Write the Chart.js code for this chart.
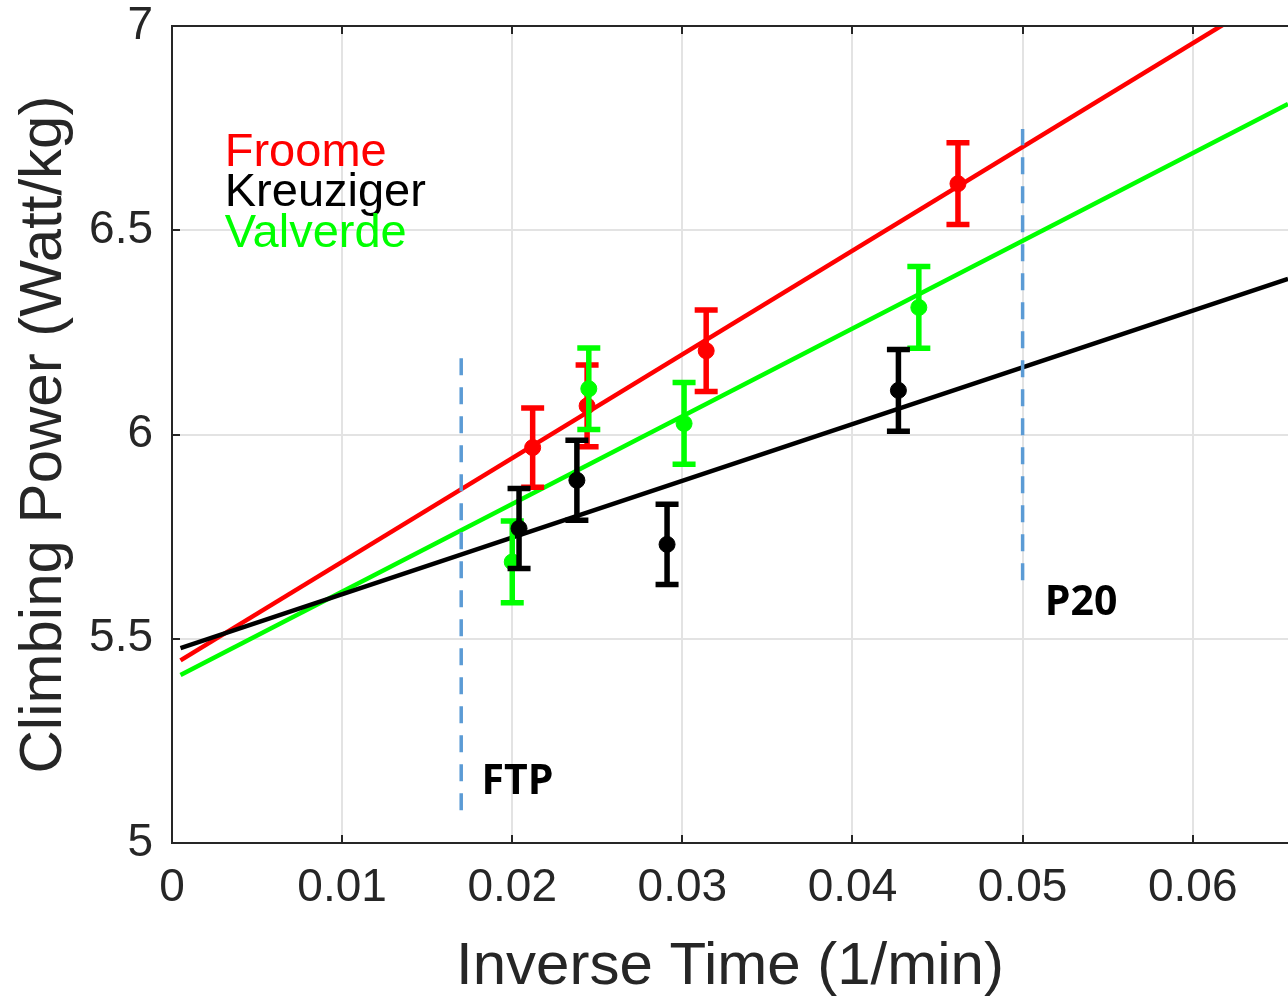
<!DOCTYPE html>
<html lang="en">
  <head>
    <meta charset="UTF-8" />
    <title>Climbing Power vs Inverse Time</title>
    <script src="https://cdn.jsdelivr.net/npm/chart.js"></script>
    <style>
      html,
      body {
        margin: 0;
        padding: 0;
        background: #fff;
        overflow: hidden;
      }
      canvas {
        display: block;
      }
    </style>
  </head>
  <body>
    <canvas id="chart" width="1288" height="997"></canvas>

    <script>
      // values
      const froomeX = [0.0212, 0.0244, 0.0314, 0.0462];
      const froomeY = [5.968, 6.07, 6.205, 6.614];
      const froomeErr = [0.097, 0.1, 0.1, 0.1];

      const kreuzigerX = [0.0204, 0.0238, 0.0291, 0.0427];
      const kreuzigerY = [5.77, 5.888, 5.731, 6.108];
      const kreuzigerErr = [0.098, 0.098, 0.098, 0.1];

      const valverdeX = [0.02, 0.0245, 0.0301, 0.0439];
      const valverdeY = [5.688, 6.112, 6.027, 6.311];
      const valverdeErr = [0.1, 0.1, 0.1, 0.1];

      // fitted lines (end points)
      const fitX = [0.0005, 0.0656];
      const froomeFit = [5.447, 7.1];
      const kreuzigerFit = [5.477, 6.381];
      const valverdeFit = [5.411, 6.809];

      // dashed markers
      const ftpX = [0.017, 0.017];
      const ftpY = [5.08, 6.19];
      const p20X = [0.05, 0.05];
      const p20Y = [5.643, 6.748];

      const xTicks = [0, 0.01, 0.02, 0.03, 0.04, 0.05, 0.06];
      const yTicks = [5, 5.5, 6, 6.5, 7];

      const RED = "#ff0000";
      const BLACK = "#000000";
      const GREEN = "#00ff00";
      const BLUE = "#5b9bd5";
      const AXIS = "#262626";
      const FONT = "'Liberation Sans', Arial, sans-serif";

      const toPts = (xs, ys) => xs.map((x, i) => ({ x: x, y: ys[i] }));

      // error bars drawn just before each point dataset
      const errorBars = {
        id: "errorBars",
        beforeDatasetDraw(chart, args) {
          const ds = chart.data.datasets[args.index];
          if (!ds.errors) return;
          const { ctx, scales } = chart;
          ctx.save();
          ctx.strokeStyle = ds.borderColor;
          ctx.lineWidth = 5.5;
          ds.data.forEach((p, i) => {
            const px = scales.x.getPixelForValue(p.x);
            const top = scales.y.getPixelForValue(p.y + ds.errors[i]);
            const bot = scales.y.getPixelForValue(p.y - ds.errors[i]);
            ctx.beginPath();
            ctx.moveTo(px, top);
            ctx.lineTo(px, bot);
            ctx.moveTo(px - 11.5, top);
            ctx.lineTo(px + 11.5, top);
            ctx.moveTo(px - 11.5, bot);
            ctx.lineTo(px + 11.5, bot);
            ctx.stroke();
          });
          ctx.restore();
        },
      };

      // top border, inward ticks, legend text and labels
      const decorations = {
        id: "decorations",
        afterDraw(chart) {
          const { ctx, chartArea: a, scales } = chart;
          const sx = scales.x, sy = scales.y;
          ctx.save();
          ctx.strokeStyle = AXIS;
          ctx.lineWidth = 2;
          ctx.beginPath();
          ctx.moveTo(a.left, a.top);
          ctx.lineTo(a.right, a.top);
          sx.ticks.forEach((t) => {
            const px = Math.round(sx.getPixelForValue(t.value));
            ctx.moveTo(px, a.bottom);
            ctx.lineTo(px, a.bottom - 8);
            ctx.moveTo(px, a.top);
            ctx.lineTo(px, a.top + 8);
          });
          sy.ticks.forEach((t) => {
            const py = Math.round(sy.getPixelForValue(t.value));
            ctx.moveTo(a.left, py);
            ctx.lineTo(a.left + 8, py);
          });
          ctx.stroke();

          ctx.textBaseline = "middle";
          ctx.textAlign = "left";
          ctx.font = "47px " + FONT;
          const legend = [
            ["Froome", RED, 6.69],
            ["Kreuziger", BLACK, 6.592],
            ["Valverde", GREEN, 6.49],
          ];
          legend.forEach(([txt, col, yv]) => {
            ctx.fillStyle = col;
            ctx.fillText(txt, sx.getPixelForValue(0.0031), sy.getPixelForValue(yv));
          });

          ctx.fillStyle = "#000";
          ctx.font = "bold 41px 'Open Sans', sans-serif";
          ctx.fillText("FTP", sx.getPixelForValue(0.0182), sy.getPixelForValue(5.149));
          ctx.fillText("P20", sx.getPixelForValue(0.0513), sy.getPixelForValue(5.587));
          ctx.restore();
        },
      };

      const lineDs = (label, xs, ys, color, order, extra) =>
        Object.assign(
          {
            type: "line",
            label: label,
            data: toPts(xs, ys),
            borderColor: color,
            borderWidth: 4.5,
            pointRadius: 0,
            fill: false,
            tension: 0,
            order: order,
          },
          extra || {}
        );

      const pointDs = (label, xs, ys, errs, color, order) => ({
        type: "scatter",
        label: label,
        data: toPts(xs, ys),
        errors: errs,
        borderColor: color,
        backgroundColor: color,
        pointRadius: 8,
        pointBorderWidth: 1,
        order: order,
      });

      // no automatic label padding: the plot box is fixed
      const noPad = (s) => {
        s.paddingTop = 0;
        s.paddingBottom = 0;
        s.paddingLeft = 0;
        s.paddingRight = 0;
      };

      new Chart(document.getElementById("chart"), {
        type: "scatter",
        data: {
          datasets: [
            pointDs("Kreuziger", kreuzigerX, kreuzigerY, kreuzigerErr, BLACK, 1),
            pointDs("Valverde", valverdeX, valverdeY, valverdeErr, GREEN, 2),
            pointDs("Froome", froomeX, froomeY, froomeErr, RED, 3),
            lineDs("FTP", ftpX, ftpY, BLUE, 4, { borderWidth: 3.5, borderDash: [17, 12] }),
            lineDs("P20", p20X, p20Y, BLUE, 4, { borderWidth: 3.5, borderDash: [17, 12] }),
            lineDs("Kreuziger fit", fitX, kreuzigerFit, BLACK, 5),
            lineDs("Valverde fit", fitX, valverdeFit, GREEN, 6),
            lineDs("Froome fit", fitX, froomeFit, RED, 7),
          ],
        },
        options: {
          responsive: false,
          animation: false,
          devicePixelRatio: 1,
          layout: {
            autoPadding: false,
            padding: { top: 26, right: 0, left: 0, bottom: 0 },
          },
          plugins: {
            legend: { display: false },
            tooltip: { enabled: false },
          },
          scales: {
            x: {
              type: "linear",
              min: 0,
              max: 0.0656,
              afterBuildTicks: (s) => {
                s.ticks = xTicks.map((v) => ({ value: v }));
              },
              afterFit: (s) => {
                s.height = 154;
                noPad(s);
              },
              ticks: {
                padding: 18,
                color: AXIS,
                font: { family: FONT, size: 46 },
                callback: (v) => String(+v.toFixed(2)),
              },
              grid: { color: "#e3e3e3", lineWidth: 2, drawTicks: false },
              border: { color: AXIS, width: 2 },
              title: {
                display: true,
                text: "Inverse Time (1/min)",
                color: AXIS,
                font: { family: FONT, size: 60, lineHeight: 1.0 },
                padding: { top: 0, bottom: 0 },
              },
            },
            y: {
              type: "linear",
              min: 5,
              max: 7,
              afterBuildTicks: (s) => {
                s.ticks = yTicks.map((v) => ({ value: v }));
              },
              afterFit: (s) => {
                s.width = 172;
                noPad(s);
              },
              ticks: {
                padding: 19,
                color: AXIS,
                font: { family: FONT, size: 46 },
                callback: (v) => String(v),
              },
              grid: { color: "#e3e3e3", lineWidth: 2, drawTicks: false },
              border: { color: AXIS, width: 2 },
              title: {
                display: true,
                text: "Climbing Power (Watt/kg)",
                color: AXIS,
                font: { family: FONT, size: 60 },
                padding: { top: 8, bottom: 0 },
              },
            },
          },
        },
        plugins: [errorBars, decorations],
      });
    </script>
  </body>
</html>
